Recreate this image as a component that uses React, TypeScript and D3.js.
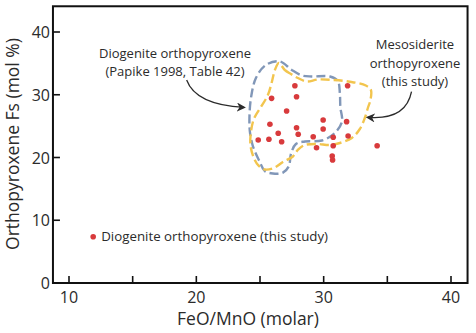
import React from "react";
import * as d3 from "d3";

const W = 476;
const H = 333;

// Data: FeO/MnO (molar) vs Fs (mol %) for diogenite orthopyroxene (this study)
const pointFeOMnO = [27.74, 25.91, 27.87, 27.09, 31.88, 25.78, 27.87, 26.43, 28.0, 24.86, 25.7, 26.7, 29.44, 29.96, 31.8, 29.96, 29.18, 30.75, 31.92, 30.75, 30.67, 30.7, 34.2];
const pointFs = [31.44, 29.43, 29.69, 27.41, 31.44, 25.29, 24.75, 23.86, 23.7, 22.79, 22.9, 22.52, 21.56, 25.98, 25.71, 24.54, 23.31, 23.22, 23.43, 21.88, 20.24, 19.6, 21.88];

// Field outline: Diogenite orthopyroxene (Papike 1998)
const papikeX = [26.56, 27.5, 28.29, 29.07, 30.49, 31.11, 31.27, 31.31, 31.43, 30.8, 29.86, 28.52, 27.82, 27.43, 27.27, 26.8, 26.01, 25.38, 24.91, 24.44, 24.21, 24.17, 24.29, 24.68, 25.46];
const papikeY = [35.3, 33.94, 33.07, 32.91, 32.91, 32.19, 30.28, 28.05, 25.66, 23.75, 22.71, 22.55, 22.15, 20.56, 18.65, 17.58, 17.45, 17.85, 19.6, 21.83, 24.06, 26.29, 29.48, 32.67, 34.74];

// Field outline: Mesosiderite orthopyroxene (this study)
const mesoX = [26.48, 26.95, 27.43, 27.97, 28.68, 29.54, 30.72, 32.06, 33.31, 33.71, 33.67, 33.47, 33.23, 32.84, 32.21, 31.27, 30.49, 29.47, 28.52, 27.97, 27.58, 26.8, 26.09, 25.38, 24.91, 24.52, 24.25, 24.29, 24.52, 25.07, 25.62, 25.93, 26.17];
const mesoY = [35.06, 33.94, 33.31, 32.67, 32.11, 32.43, 32.35, 32.08, 31.47, 30.76, 29.16, 27.89, 26.29, 24.54, 23.11, 22.31, 21.99, 22.15, 21.99, 21.2, 20.16, 19.28, 18.33, 18.09, 18.65, 19.92, 21.99, 24.06, 26.14, 28.05, 29.96, 32.03, 33.94];

const xTicks = [10, 15, 20, 25, 30, 35, 40];
const xTickLabels = [10, 20, 30, 40];
const yTicks = [0, 10, 20, 30, 40];

const legendPoint = [11.9, 7.38];

const FONT = "'Open Sans', 'Noto Sans', sans-serif";
const TEXT = "#2b2b2b";

export default function App() {
  const x = d3.scaleLinear().domain([10, 40]).range([69, 451]);
  const y = d3.scaleLinear().domain([0, 40]).range([283, 32]);
  const x0 = x(8.74), x1 = x(41.3), y0 = y(0), y1 = y(44.1);

  const line = d3
    .line<[number, number]>()
    .x((d) => x(d[0]))
    .y((d) => y(d[1]))
    .curve(d3.curveCatmullRomClosed.alpha(0.5));

  const papike = papikeX.map((v, i) => [v, papikeY[i]] as [number, number]);
  const meso = mesoX.map((v, i) => [v, mesoY[i]] as [number, number]);

  const arrow1 = d3.path();
  arrow1.moveTo(x(19.24), y(32.35));
  arrow1.quadraticCurveTo(x(19.95), y(28.4), x(23.75), y(27.98));
  const arrow2 = d3.path();
  arrow2.moveTo(x(36.9), y(30.49));
  arrow2.quadraticCurveTo(x(36.45), y(25.9), x(33.45), y(26.4));

  return (
    <svg
      width={W}
      height={H}
      style={{ position: "absolute", left: 0, top: 0, background: "#fff" }}
      fontFamily={FONT}
    >
      <defs>
        <marker id="ah" viewBox="0 0 10 10" refX="8" refY="5" markerWidth="7" markerHeight="7" orient="auto">
          <path d="M0,0 L10,5 L0,10 L3,5 Z" fill={TEXT} />
        </marker>
      </defs>
      <rect x={0} y={0} width={W} height={H} fill="#fff" />

      {/* fields */}
      <path d={line(papike) || ""} fill="none" stroke="#8197b8" strokeWidth={2.4} strokeDasharray="9 4" />
      <path d={line(meso) || ""} fill="none" stroke="#f2c54e" strokeWidth={2.4} strokeDasharray="9 4" />

      {/* points */}
      {pointFeOMnO.map((v, i) => (
        <circle key={i} cx={x(v)} cy={y(pointFs[i])} r={2.8} fill="#d83a3c" />
      ))}

      {/* frame */}
      <rect x={x0} y={y1} width={x1 - x0} height={y0 - y1} fill="none" stroke="#111" strokeWidth={2} />
      {xTicks.map((t) => (
        <line key={"xt" + t} x1={x(t)} x2={x(t)} y1={y0} y2={y0 - 7} stroke="#111" strokeWidth={1.6} />
      ))}
      {yTicks.map((t) => (
        <line key={"yt" + t} x1={x0} x2={x0 + 7} y1={y(t)} y2={y(t)} stroke="#111" strokeWidth={1.6} />
      ))}
      {xTickLabels.map((t) => (
        <text key={"xl" + t} x={x(t)} y={y0 + 20} textAnchor="middle" fontSize={16} fill={TEXT}>
          {t}
        </text>
      ))}
      {yTicks.map((t) => (
        <text key={"yl" + t} x={x0 - 3} y={y(t) + 6} textAnchor="end" fontSize={16} fill={TEXT}>
          {t}
        </text>
      ))}
      <text x={248} y={325} textAnchor="middle" fontSize={17.5} fill={TEXT}>
        FeO/MnO (molar)
      </text>
      <text transform={`translate(19,${144}) rotate(-90)`} textAnchor="middle" fontSize={17.5} fill={TEXT}>
        Orthopyroxene Fs (mol %)
      </text>

      {/* annotations */}
      <text x={175} y={58} textAnchor="middle" fontSize={13} fill={TEXT}>
        Diogenite orthopyroxene
      </text>
      <text x={175} y={76} textAnchor="middle" fontSize={13} fill={TEXT}>
        (Papike 1998, Table 42)
      </text>
      <path d={arrow1.toString()} fill="none" stroke={TEXT} strokeWidth={1.3} markerEnd="url(#ah)" />

      <text x={415} y={48.5} textAnchor="middle" fontSize={13} fill={TEXT}>
        Mesosiderite
      </text>
      <text x={415} y={67.5} textAnchor="middle" fontSize={13} fill={TEXT}>
        orthopyroxene
      </text>
      <text x={415} y={86} textAnchor="middle" fontSize={13} fill={TEXT}>
        (this study)
      </text>
      <path d={arrow2.toString()} fill="none" stroke={TEXT} strokeWidth={1.3} markerEnd="url(#ah)" />

      {/* legend */}
      <circle cx={x(legendPoint[0])} cy={y(legendPoint[1])} r={2.8} fill="#d83a3c" />
      <text x={x(legendPoint[0]) + 8} y={y(legendPoint[1]) + 4.5} fontSize={13.3} fill={TEXT}>
        Diogenite orthopyroxene (this study)
      </text>
    </svg>
  );
}
